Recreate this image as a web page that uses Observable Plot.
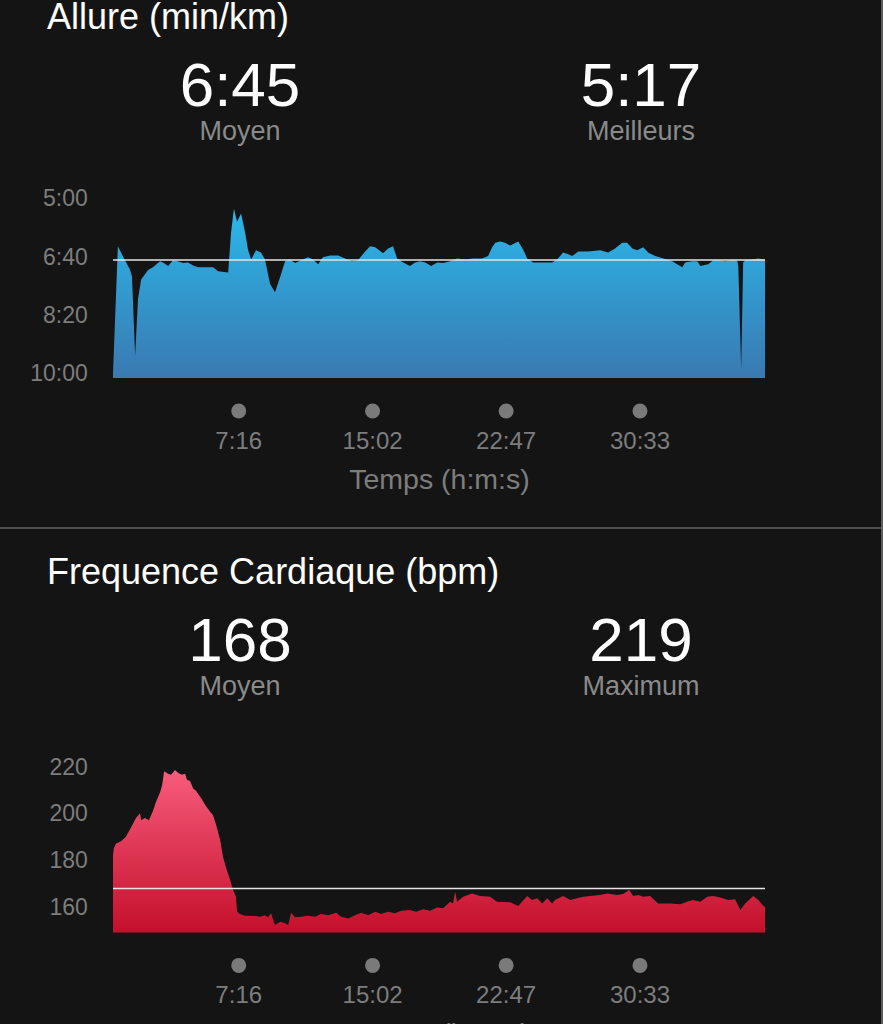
<!DOCTYPE html>
<html><head><meta charset="utf-8">
<script src="https://cdn.jsdelivr.net/npm/d3@7"></script>
<script src="https://cdn.jsdelivr.net/npm/@observablehq/plot@0.6"></script>
<style>
html,body{margin:0;padding:0;background:#141414;}
body{width:883px;height:1024px;position:relative;overflow:hidden;font-family:"Liberation Sans",Arial,sans-serif;}
.abs{position:absolute;line-height:1;white-space:nowrap;}
.title{left:47px;font-size:36px;line-height:0.95;color:#fff;}
.big{font-size:62px;line-height:0.75;color:#fff;transform:translateX(-50%);}
.sub{font-size:27px;line-height:0.9;color:#8a8a8a;transform:translateX(-50%);}
.sep{position:absolute;left:0;width:883px;top:527px;height:2px;background:#4e4e4e;}
.edge{position:absolute;right:0;top:0;width:2px;height:1024px;background:#5e5e5e;}
.chart{position:absolute;left:0;}
.chart svg{background:transparent;overflow:visible;}
</style></head>
<body>
<div id="root"></div>
<div class="sep"></div>
<div class="edge"></div>
<script>
// ---------- data ----------
const paceTitle = "Allure (min/km)";
const paceStatLabels = ["Moyen", "Meilleurs"];
const paceStatValues = ["6:45", "5:17"];
const hrTitle = "Frequence Cardiaque (bpm)";
const hrStatLabels = ["Moyen", "Maximum"];
const hrStatValues = ["168", "219"];

const xTickLabels = ["7:16", "15:02", "22:47", "30:33"];
const xAxisLabel = "Temps (h:m:s)";
const paceTickLabels = ["5:00", "6:40", "8:20", "10:00"];
const hrTickLabels = ["160", "180", "200", "220"];

// elapsed time (s) and pace (s per km)
const paceTime = [0,17,35,59,66,77,87,98,122,139,164,174,192,209,226,244,261,279,296,331,348,366,401,411,421,432,446,460,470,481,498,515,529,547,564,582,599,616,634,655,679,697,714,731,756,784,808,832,853,878,895,913,940,958,975,989,1010,1034,1052,1069,1087,1108,1129,1149,1174,1198,1226,1254,1285,1306,1320,1331,1348,1365,1383,1411,1428,1442,1463,1494,1529,1546,1567,1585,1599,1620,1654,1696,1724,1748,1773,1790,1808,1825,1846,1863,1888,1916,1947,1964,1982,1992,2017,2034,2045,2072,2090,2114,2132,2149,2173,2177,2187,2194,2201,2226,2247,2267,2270];
const paceSec = [600,382,400,422,434,570,473,439,423,418,408,410,416,406,408,411,410,415,418,418,418,425,427,359,318,340,326,359,388,405,389,393,405,447,461,435,408,405,411,406,401,405,413,401,398,398,403,408,406,391,382,384,394,386,382,403,410,416,410,408,410,416,410,411,408,403,405,403,403,399,384,376,374,376,381,374,388,403,410,410,410,405,393,396,399,391,391,389,393,386,376,376,386,389,384,393,399,403,408,413,418,410,408,408,416,413,406,406,408,406,406,416,592,410,406,405,403,405,405];

// elapsed time (s) and heart rate (bpm)
const hrTime = [0,3,10,28,45,63,80,94,98,111,125,139,150,164,171,178,192,202,216,226,240,251,258,268,279,289,307,324,338,348,359,373,383,394,408,418,428,432,442,460,495,512,529,540,550,564,582,599,610,620,634,655,679,704,724,749,777,794,819,843,864,888,913,933,958,982,1003,1034,1055,1080,1104,1128,1149,1174,1184,1191,1198,1219,1250,1278,1313,1337,1383,1411,1442,1459,1477,1494,1512,1529,1539,1567,1592,1616,1637,1661,1696,1721,1755,1776,1797,1811,1829,1846,1870,1898,1940,1975,1999,2020,2045,2069,2090,2114,2142,2166,2184,2201,2229,2247,2264,2270];
const hrBpm = [182,185,187,188,190,194,198,200,197,198,197,201,205,209,212,218,217,216.5,218.6,217.4,216.5,217,214.3,214,210.7,209.7,206.5,203,200.7,199.3,195,188.6,181.4,176.5,171.4,167.2,164.3,157.9,156.9,156.1,156,155.7,156.4,155.5,157.2,152.2,153.6,152.9,152.2,157.4,155.5,155.7,156.1,155.7,156.9,156.4,157.4,155.7,155,156.4,157.4,156.4,157.9,156.9,157.9,157.2,158.3,158.6,157.9,158.9,158.3,159.7,159.3,162.1,161.4,166.4,162.1,164.3,165.7,164.6,164.3,162.1,161.9,160.3,164.6,162.9,163.6,161.4,163.6,161.4,162.9,164.6,162.9,163.6,164.3,164.6,165,165.7,165,165.4,167.2,164.6,165,164.3,164.6,161.4,161.4,161.1,162.1,162.9,162.1,164.3,164.6,164,162.9,163.2,158.6,161.4,164.6,162.9,160.3,160];

// ---------- helpers ----------
const parseMS = s => { const [m, ss] = s.split(":").map(Number); return m * 60 + ss; };
const xTicks = xTickLabels.map(parseMS);
const tEnd = d3.max(paceTime);
const root = document.getElementById("root");

function addText(cls, text, left, top) {
  const d = document.createElement("div");
  d.className = "abs " + cls;
  d.textContent = text;
  d.style.top = top + "px";
  if (left != null) d.style.left = left + "px";
  root.appendChild(d);
}

function header(title, labels, values, offset) {
  addText("title", title, null, offset);
  const cx = [240, 641];
  values.forEach((v, i) => addText("big", v, cx[i], offset + 62));
  labels.forEach((l, i) => addText("sub", l, cx[i], offset + 118.5));
}

function chart({rows, yDomain, yTicks, yLabels, avg, gradId, colors, top, height, marginTop, marginBottom}) {
  const gray = "#7d7d7d";
  const svg = Plot.plot({
    width: 883, height,
    marginLeft: 113, marginRight: 118, marginTop, marginBottom,
    style: {background: "transparent", fontFamily: "'Liberation Sans', Arial, sans-serif", overflow: "visible"},
    x: {domain: [0, tEnd], axis: null},
    y: {domain: yDomain, axis: null, reverse: yDomain.reverse === true},
    marks: [
      Plot.areaY(rows, {x: "t", y1: yDomain.floor, y2: "v", fill: `url(#${gradId})`}),
      Plot.ruleY([avg], {stroke: "#e4e4e4", strokeWidth: 1.6}),
      Plot.text(yTicks, {y: d => d, text: (d, i) => yLabels[i], frameAnchor: "left", dx: -25.7, textAnchor: "end", fontSize: 23, fill: gray}),
      Plot.dot(xTicks, {x: d => d, frameAnchor: "bottom", dy: 32.5, r: 7.5, fill: "#7a7a7a"}),
      Plot.text(xTicks, {x: d => d, text: (d, i) => xTickLabels[i], frameAnchor: "bottom", dy: 70, fontSize: 24, fill: gray}),
      Plot.text([xAxisLabel], {frameAnchor: "bottom", dy: 110, fontSize: 28.5, fill: gray})
    ]
  });
  const defs = d3.select(svg).insert("defs", ":first-child");
  const g = defs.append("linearGradient").attr("id", gradId)
    .attr("x1", 0).attr("y1", 0).attr("x2", 0).attr("y2", 1);
  g.append("stop").attr("offset", 0).attr("stop-color", colors[0]);
  g.append("stop").attr("offset", 1).attr("stop-color", colors[1]);
  const wrap = document.createElement("div");
  wrap.className = "chart";
  wrap.style.top = top + "px";
  wrap.appendChild(svg);
  document.body.appendChild(wrap);
}

// ---------- pace panel ----------
header(paceTitle, paceStatLabels, paceStatValues, 0);
const paceRows = paceTime.map((t, i) => ({t, v: paceSec[i]}));
const paceDomain = [300, 608]; paceDomain.floor = 608; paceDomain.reverse = true;
chart({
  rows: paceRows, yDomain: paceDomain,
  yTicks: paceTickLabels.map(parseMS), yLabels: paceTickLabels,
  avg: parseMS(paceStatValues[0]), gradId: "paceGrad", colors: ["#2bb7e9", "#3a79b1"],
  top: 180, height: 330, marginTop: 18.3, marginBottom: 132
});

// ---------- heart-rate panel ----------
header(hrTitle, hrStatLabels, hrStatValues, 555);
const hrRows = hrTime.map((t, i) => ({t, v: hrBpm[i]}));
const hrDomain = [149, 222]; hrDomain.floor = 149;
chart({
  rows: hrRows, yDomain: hrDomain,
  yTicks: hrTickLabels.map(Number), yLabels: hrTickLabels,
  avg: Number(hrStatValues[0]), gradId: "hrGrad", colors: ["#f85c7c", "#c4102c"],
  top: 740, height: 284, marginTop: 22, marginBottom: 91.6
});
</script>
</body></html>
